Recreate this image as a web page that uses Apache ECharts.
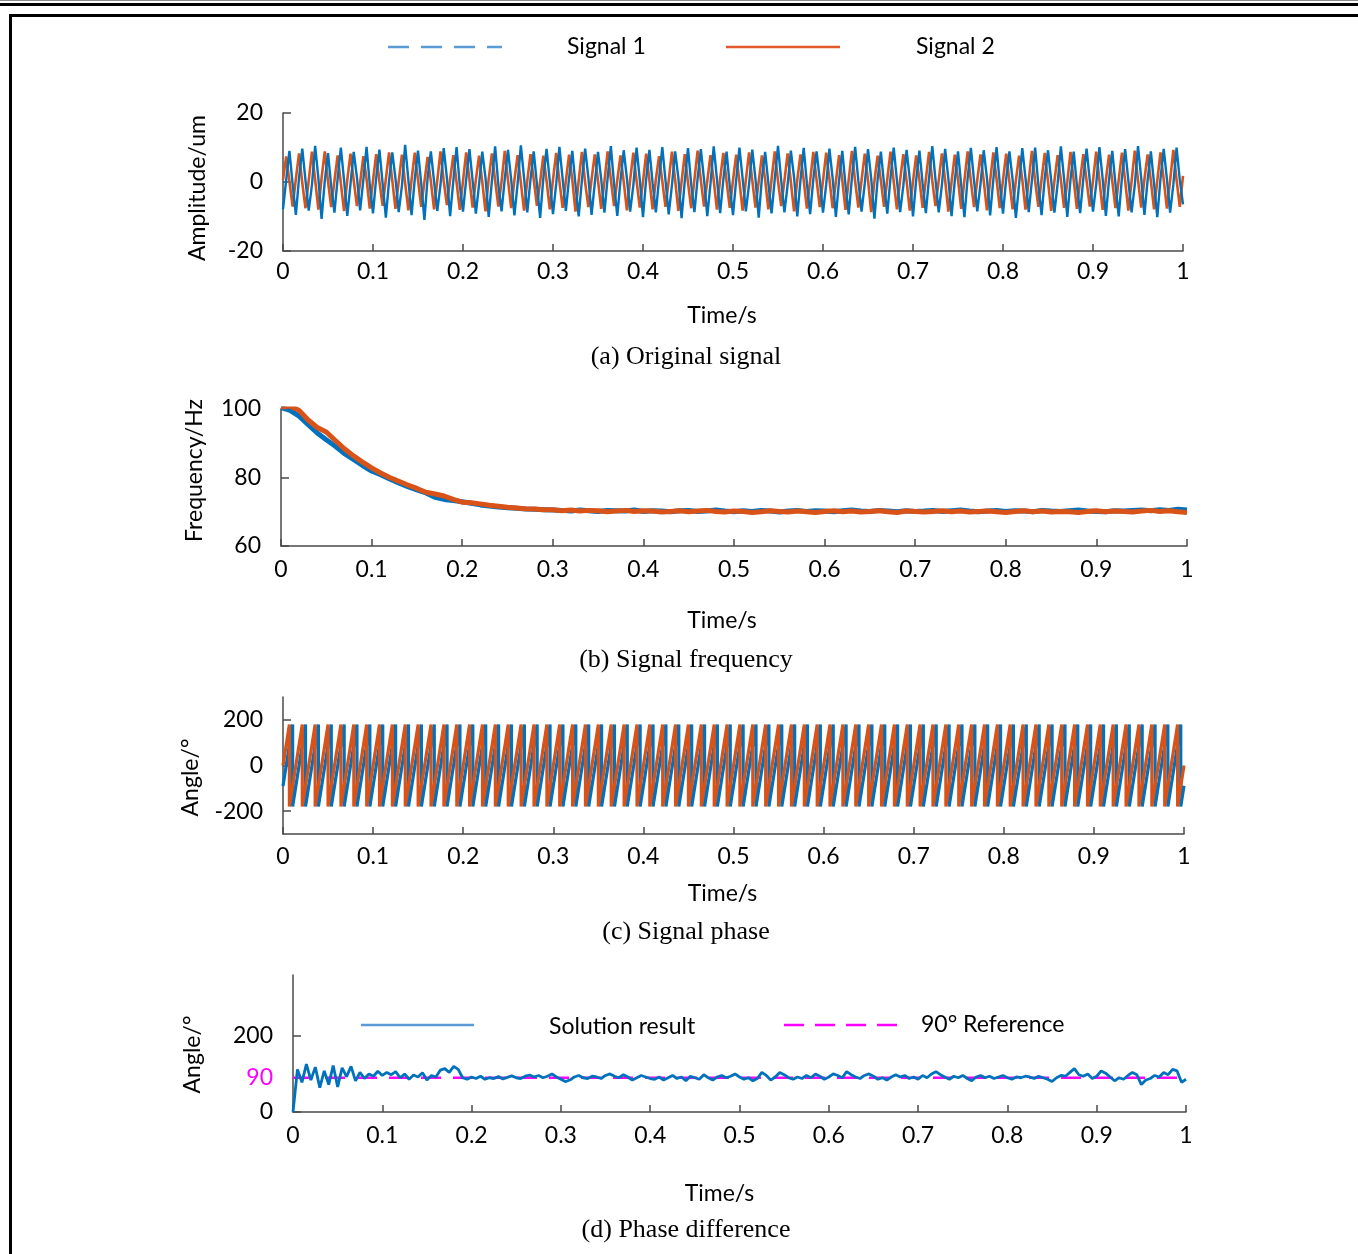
<!DOCTYPE html>
<html>
<head>
<meta charset="utf-8">
<script src="https://cdn.jsdelivr.net/npm/echarts@6/dist/echarts.min.js"></script>
<style>
  html, body { margin: 0; padding: 0; background: #fff; }
  #chart { width: 1358px; height: 1254px; }
</style>
</head>
<body>
<div id="chart"></div>
<script>
// (a) original signal, sampled every 1/280 s (a quarter period of the 70 Hz wave)
var dtA = 1 / 280;
var sig1 = [
  -7.9, 0.6, 9.0, -0.7, -9.5, 1.3, 9.7, 0.4, -8.3, -0.9, 10.5, 1.1, -10.7, 0.3, 8.4, -1.2, -8.9, 1.0, 10.0, 0.5, -9.8, -0.6, 8.7, 1.4, -8.2, 0.7, 10.2, -0.8,
  -9.1, 1.2, 9.4, -0.5, -10.3, 0.4, 8.6, 1.0, -8.7, -1.1, 10.8, 0.6, -9.6, 0.9, 9.1, -0.4, -11.0, 1.3, 8.9, 0.2, -8.4, -0.8, 9.8, 1.1, -9.9, 0.5, 10.1, -1.0,
  -8.6, 0.8, 9.5, 0.3, -9.2, -0.7, 8.8, 1.2, -10.1, 0.4, 10.3, -0.9, -8.5, 1.0, 9.3, 0.6, -9.7, -0.4, 10.6, 1.1, -8.8, 0.7, 8.9, -0.6, -10.4, 1.2, 9.6, 0.3,
  -9.3, -0.5, 10.2, 0.9, -8.4, 1.1, 9.0, -0.8, -10.0, 0.6, 9.7, 1.3, -9.5, -0.3, 8.7, 0.8, -8.9, 1.2, 10.4, -0.6, -9.8, 0.5, 9.2, 1.0, -8.6, -0.9, 10.0, 0.7,
  -10.2, 1.0, 9.3, -0.4, -8.8, 0.9, 10.1, 0.5, -9.4, -1.0, 8.9, 1.2, -10.5, 0.3, 9.8, -0.7, -8.7, 1.1, 9.5, 0.6, -9.9, -0.5, 10.3, 0.9, -9.0, 0.8, 8.8, -1.1,
  -9.6, 0.7, 10.0, 1.0, -8.5, -0.6, 9.4, 0.8, -10.3, 1.2, 8.7, -0.3, -9.1, 0.9, 10.5, 0.4, -8.8, -0.8, 9.1, 1.3, -10.0, 0.6, 9.9, -0.5, -9.3, 1.0, 8.9, 0.7,
  -8.9, -0.7, 9.7, 1.1, -10.1, 0.5, 9.0, -0.9, -9.4, 1.2, 10.2, 0.3, -8.6, -0.4, 9.5, 1.0, -10.6, 0.8, 8.8, -0.6, -9.2, 1.1, 10.0, 0.5, -8.7, -1.0, 9.3, 0.9,
  -10.0, 0.6, 9.1, -0.5, -9.0, 1.2, 10.4, 0.7, -8.8, -0.8, 9.6, 1.0, -9.9, 0.4, 8.9, -0.9, -10.2, 1.1, 9.9, 0.3, -8.5, -0.6, 9.2, 1.2, -9.7, 0.8, 10.1, -0.4,
  -9.2, 1.0, 8.9, 0.6, -10.4, -0.7, 9.8, 1.1, -8.7, 0.5, 10.0, -0.8, -9.6, 1.2, 9.2, 0.4, -8.9, -0.5, 10.3, 0.9, -10.1, 0.7, 8.8, -1.0, -9.0, 1.1, 9.7, 0.5,
  -8.6, -0.6, 10.1, 1.0, -9.8, 0.8, 9.0, -0.7, -10.0, 1.2, 9.5, 0.4, -8.8, -0.9, 10.4, 1.1, -9.5, 0.6, 8.9, -0.5, -10.2, 1.0, 9.6, 0.8, -8.9, -0.7, 10.0, 0.6,
  -6.5
];
var sig2 = [
  0.6, 7.4, 0.2, -7.1, 0.9, 8.3, -0.3, -7.6, 0.4, 8.8, 0.7, -8.0, 1.1, 8.9, 0.2, -7.3, 0.3, 7.7, -0.4, -8.4, 0.6, 8.2, 0.5, -7.0, -0.2, 7.5, 0.8, -7.7,
  0.4, 8.1, 0.1, -6.9, 0.9, 8.6, 0.4, -7.8, 0.2, 7.9, -0.3, -8.2, 0.7, 8.5, 0.6, -7.2, 0.1, 7.3, 0.2, -7.9, 0.5, 8.9, 0.3, -6.7, 0.8, 7.8, -0.1, -8.1,
  0.3, 8.6, 0.7, -7.4, 0.6, 7.6, 0.0, -8.5, 0.9, 8.3, 0.4, -7.1, 0.2, 9.0, 0.5, -7.6, 0.6, 7.8, -0.2, -8.3, 0.4, 8.1, 0.8, -6.9, 0.1, 7.6, 0.3, -7.9,
  0.7, 8.4, 0.2, -7.5, 0.3, 7.9, 0.6, -8.6, 0.5, 8.7, -0.1, -7.3, 0.8, 8.0, 0.4, -7.8, 0.2, 8.9, 0.7, -7.0, 0.5, 7.7, 0.1, -8.2, 0.6, 8.5, 0.3, -7.4,
  0.2, 8.2, 0.5, -7.9, 0.8, 7.5, 0.3, -7.2, 0.4, 8.8, 0.6, -8.4, 0.1, 8.1, -0.2, -7.6, 0.7, 9.1, 0.4, -7.1, 0.3, 7.8, 0.5, -8.0, 0.9, 8.4, 0.2, -7.5,
  0.5, 7.9, 0.1, -8.3, 0.6, 8.6, 0.4, -7.4, 0.2, 7.7, 0.7, -7.9, 0.8, 8.9, 0.3, -7.0, 0.4, 8.3, 0.0, -8.5, 0.6, 8.0, 0.5, -7.7, 0.3, 8.7, 0.6, -7.3,
  0.4, 8.5, 0.8, -7.6, 0.1, 7.8, 0.5, -8.1, 0.7, 9.0, 0.2, -7.4, 0.5, 8.2, 0.6, -8.7, 0.3, 7.6, 0.4, -7.2, 0.8, 8.8, 0.1, -7.9, 0.6, 8.1, 0.3, -8.3,
  0.2, 7.7, 0.6, -7.5, 0.9, 8.7, 0.3, -7.0, 0.4, 8.3, 0.5, -8.6, 0.1, 7.9, 0.7, -7.8, 0.5, 8.9, 0.2, -7.3, 0.6, 8.0, 0.4, -8.2, 0.3, 8.6, 0.8, -7.6,
  0.6, 8.2, 0.1, -7.9, 0.4, 7.6, 0.7, -8.0, 0.5, 9.0, 0.3, -7.2, 0.8, 8.4, 0.2, -8.4, 0.3, 7.8, 0.6, -7.5, 0.1, 8.7, 0.5, -7.8, 0.7, 8.1, 0.4, -7.1,
  0.3, 8.8, 0.5, -8.1, 0.7, 7.9, 0.2, -7.6, 0.6, 8.5, 0.4, -8.3, 0.2, 9.1, 0.6, -7.4, 0.8, 8.0, 0.3, -7.9, 0.4, 8.6, 0.7, -7.7, 0.5, 9.3, 0.6, -7.2,
  1.8
];

// (b) estimated frequency, every 0.01 s
var freqStep = 0.01;
var freq1 = [
  100.4, 99.6, 97.9, 95.4, 93.0, 91.0, 89.1, 87.0, 85.3, 83.5,
  81.9, 80.8, 79.6, 78.4, 77.3, 76.4, 75.5, 74.2, 73.6, 73.3,
  72.9, 72.5, 72.0, 71.7, 71.4, 71.2, 71.0, 70.8, 70.7, 70.6,
  70.5, 70.4, 70.2, 70.5, 70.3, 70.1, 70.4, 70.3, 70.2, 70.5,
  70.1, 70.3, 70.2, 70.0, 70.3, 70.4, 70.1, 70.2, 70.5, 70.2,
  70.0, 70.3, 70.1, 70.4, 70.2, 69.9, 70.2, 70.4, 70.1, 70.3,
  70.2, 70.0, 70.3, 70.5, 70.2, 70.1, 70.4, 70.2, 70.0, 70.3,
  70.1, 70.2, 70.4, 70.1, 70.3, 70.5, 70.2, 70.0, 70.2, 70.4,
  70.1, 70.3, 70.2, 70.0, 70.4, 70.2, 70.1, 70.3, 70.5, 70.2,
  70.1, 70.0, 70.3, 70.2, 70.4, 70.5, 70.3, 70.6, 70.4, 70.7,
  70.5
];
var freq2 = [
  100.6, 100.9, 99.6, 96.8, 94.6, 93.3, 90.8, 88.4, 86.3, 84.5,
  82.8, 81.3, 80.0, 78.9, 77.8, 76.8, 75.7, 75.2, 74.6, 73.6,
  72.8, 72.6, 72.3, 71.9, 71.6, 71.3, 71.1, 70.9, 70.8, 70.6,
  70.6, 70.3, 70.5, 70.2, 70.4, 70.3, 70.0, 70.2, 70.4, 70.1,
  70.3, 70.2, 69.9, 70.1, 70.3, 70.0, 70.2, 70.4, 70.1, 69.9,
  70.2, 70.1, 69.8, 70.0, 70.3, 70.1, 69.9, 70.2, 70.0, 69.8,
  70.1, 70.3, 70.0, 70.2, 69.9, 70.1, 70.3, 70.0, 69.8, 70.2,
  70.1, 69.9, 70.1, 70.3, 70.0, 70.2, 69.9, 70.1, 70.2, 70.0,
  69.8, 70.1, 70.3, 70.0, 70.2, 69.9, 70.1, 70.0, 69.8, 70.1,
  70.3, 70.0, 70.2, 70.1, 69.9, 70.2, 70.4, 70.1, 70.3, 70.0,
  69.8
];

// (c) phase: start / end angle and the times where each sawtooth wraps 180 -> -180
var phaseStart1 = -90, phaseEnd1 = -89;
var phaseStart2 = 0, phaseEnd2 = 0;
var wrap1 = [
  0.0107, 0.0250, 0.0393, 0.0536, 0.0679, 0.0821, 0.0964,
  0.1107, 0.1250, 0.1393, 0.1536, 0.1679, 0.1821, 0.1964,
  0.2107, 0.2250, 0.2393, 0.2536, 0.2679, 0.2821, 0.2964,
  0.3107, 0.3250, 0.3393, 0.3536, 0.3679, 0.3821, 0.3964,
  0.4107, 0.4250, 0.4393, 0.4536, 0.4679, 0.4821, 0.4964,
  0.5107, 0.5250, 0.5393, 0.5536, 0.5679, 0.5821, 0.5964,
  0.6107, 0.6250, 0.6393, 0.6536, 0.6679, 0.6821, 0.6964,
  0.7107, 0.7250, 0.7393, 0.7536, 0.7679, 0.7821, 0.7964,
  0.8107, 0.8250, 0.8393, 0.8536, 0.8679, 0.8821, 0.8964,
  0.9107, 0.9250, 0.9393, 0.9536, 0.9679, 0.9821, 0.9964
];
var wrap2 = [
  0.0071, 0.0214, 0.0357, 0.0500, 0.0643, 0.0786, 0.0929,
  0.1071, 0.1214, 0.1357, 0.1500, 0.1643, 0.1786, 0.1929,
  0.2071, 0.2214, 0.2357, 0.2500, 0.2643, 0.2786, 0.2929,
  0.3071, 0.3214, 0.3357, 0.3500, 0.3643, 0.3786, 0.3929,
  0.4071, 0.4214, 0.4357, 0.4500, 0.4643, 0.4786, 0.4929,
  0.5071, 0.5214, 0.5357, 0.5500, 0.5643, 0.5786, 0.5929,
  0.6071, 0.6214, 0.6357, 0.6500, 0.6643, 0.6786, 0.6929,
  0.7071, 0.7214, 0.7357, 0.7500, 0.7643, 0.7786, 0.7929,
  0.8071, 0.8214, 0.8357, 0.8500, 0.8643, 0.8786, 0.8929,
  0.9071, 0.9214, 0.9357, 0.9500, 0.9643, 0.9786, 0.9929
];

// (d) phase difference, every 0.005 s
var diffStep = 0.005;
var phaseDiff = [
  0, 112, 78, 126, 84, 118, 64, 108, 72, 122, 66, 116, 93, 120, 82, 104, 88, 100, 94, 107,
  96, 104, 98, 106, 90, 100, 86, 97, 92, 103, 84, 96, 92, 110, 114, 104, 120, 112, 90, 86,
  92, 88, 94, 86, 90, 88, 93, 87, 91, 95, 90, 88, 94, 97, 92, 96, 90, 94, 100, 92,
  86, 80, 84, 92, 96, 90, 88, 94, 92, 88, 96, 100, 94, 90, 98, 92, 84, 90, 96, 92,
  88, 86, 92, 84, 90, 96, 88, 92, 82, 94, 90, 86, 98, 90, 84, 92, 96, 90, 94, 100,
  92, 86, 90, 82, 88, 104, 96, 84, 92, 104, 98, 90, 86, 92, 88, 96, 90, 100, 94, 86,
  92, 100, 96, 90, 106, 98, 92, 88, 96, 100, 94, 86, 90, 84, 92, 98, 92, 96, 88, 92,
  86, 96, 90, 100, 106, 98, 92, 86, 94, 90, 96, 88, 82, 92, 96, 90, 94, 88, 92, 96,
  90, 86, 92, 90, 94, 92, 88, 94, 90, 86, 80, 90, 96, 94, 104, 114, 98, 94, 100, 88,
  94, 108, 102, 92, 82, 90, 86, 96, 104, 98, 72, 84, 88, 96, 92, 104, 98, 112, 108, 78,
  86
];
var refAngle = 90;

var xTickLabels = ['0', '0.1', '0.2', '0.3', '0.4', '0.5', '0.6', '0.7', '0.8', '0.9', '1'];

var blue = '#0072BD';
var orange = '#D95319';
var legendBlue = '#5B9BD5';
var legendOrange = '#E2582A';
var magenta = '#FF00FF';
var axisColor = '#4a4a4a';
var sans = 'Lato, "Open Sans", sans-serif';
var serif = '"Liberation Serif", "DejaVu Serif", serif';
var fs = 23;

function evenSeries(values, step) {
  return values.map(function (v, i) { return [+(i * step).toFixed(5), v]; });
}

function sawtooth(start, wraps, end) {
  var pts = [[0, start]];
  wraps.forEach(function (t) {
    pts.push([t, 180]);
    pts.push([t, -180]);
  });
  pts.push([1, end]);
  return pts;
}

function xAx(idx, nameGap, margin, shiftLeft) {
  return {
    type: 'value', gridIndex: idx, min: 0, max: 1, interval: 0.1,
    name: 'Time/s', nameLocation: 'middle', nameGap: nameGap,
    nameTextStyle: { fontFamily: sans, fontSize: fs, color: '#000', padding: [0, shiftLeft * 2, 0, 0] },
    axisLine: { show: true, onZero: false, lineStyle: { color: axisColor, width: 1.5 } },
    axisTick: { show: true, inside: true, length: 7, lineStyle: { color: axisColor, width: 1.5 } },
    axisLabel: {
      margin: margin, fontFamily: sans, fontSize: fs, color: '#000',
      formatter: function (v) { return xTickLabels[Math.round(v * 10)]; }
    },
    splitLine: { show: false }
  };
}

function yAx(idx, name, nameGap, namePad, min, max, ticks, extra) {
  var ax = {
    type: 'value', gridIndex: idx, min: min, max: max,
    name: name, nameLocation: 'middle', nameGap: nameGap, nameRotate: 90,
    nameTextStyle: { fontFamily: sans, fontSize: fs, color: '#000', padding: namePad },
    axisLine: { show: true, lineStyle: { color: axisColor, width: 1.5 } },
    axisTick: { show: true, inside: true, length: 8, customValues: ticks, lineStyle: { color: axisColor, width: 1.5 } },
    axisLabel: { margin: 20, fontFamily: sans, fontSize: fs, color: '#000', customValues: ticks },
    splitLine: { show: false }
  };
  if (extra) {
    ax.axisLabel.customValues = extra.labels;
    ax.axisLabel.color = extra.color;
  }
  return ax;
}

function hline(x1, x2, y, color, width, dash) {
  return {
    type: 'line', silent: true,
    shape: { x1: x1, y1: y, x2: x2, y2: y },
    style: { stroke: color, lineWidth: width, lineDash: dash || null }
  };
}

function label(text, x, y, font, align, color) {
  return {
    type: 'text', silent: true, x: x, y: y,
    style: { text: text, font: font, fill: color || '#000', textAlign: align || 'left', textVerticalAlign: 'middle', align: align || 'left', verticalAlign: 'middle' }
  };
}

var chart = echarts.init(document.getElementById('chart'));

var option = {
  animation: false,
  backgroundColor: '#fff',
  grid: [
    { left: 283, top: 113, width: 900, height: 138 },
    { left: 281, top: 409, width: 906, height: 137 },
    { left: 283, top: 697, width: 901, height: 137 },
    { left: 293, top: 975, width: 893, height: 137 }
  ],
  xAxis: [
    xAx(0, 53, 9, 11),
    xAx(1, 63, 12, 12),
    xAx(2, 48, 11, 11),
    xAx(3, 70, 12, 20)
  ],
  yAxis: [
    yAx(0, 'Amplitude/um', 74, [0, 12, 0, 0], -20, 20, [-20, 0, 20]),
    yAx(1, 'Frequency/Hz', 75, [0, 0, 0, 14], 60, 100, [60, 80, 100]),
    yAx(2, 'Angle/°', 81, [0, 24, 0, 0], -300, 300, [-200, 0, 200]),
    yAx(3, 'Angle/°', 89, [0, 22, 0, 0], 0, 360, [0, 200], {
      labels: [0, 90, 200],
      color: function (v) { return +v === 90 ? magenta : '#000'; }
    })
  ],
  series: [
    { name: 'Signal 2', type: 'line', xAxisIndex: 0, yAxisIndex: 0, data: evenSeries(sig2, dtA), showSymbol: false, lineStyle: { color: orange, width: 2.6 } },
    { name: 'Signal 1', type: 'line', xAxisIndex: 0, yAxisIndex: 0, data: evenSeries(sig1, dtA), showSymbol: false, lineStyle: { color: blue, width: 2.4 } },
    { name: 'Signal 1', type: 'line', xAxisIndex: 1, yAxisIndex: 1, data: evenSeries(freq1, freqStep), showSymbol: false, lineStyle: { color: blue, width: 5 } },
    { name: 'Signal 2', type: 'line', xAxisIndex: 1, yAxisIndex: 1, data: evenSeries(freq2, freqStep), showSymbol: false, lineStyle: { color: orange, width: 5 } },
    { name: 'Signal 1', type: 'line', xAxisIndex: 2, yAxisIndex: 2, data: sawtooth(phaseStart1, wrap1, phaseEnd1), showSymbol: false, lineStyle: { color: blue, width: 3.2 } },
    { name: 'Signal 2', type: 'line', xAxisIndex: 2, yAxisIndex: 2, data: sawtooth(phaseStart2, wrap2, phaseEnd2), showSymbol: false, lineStyle: { color: orange, width: 3.2 } },
    { name: '90° Reference', type: 'line', xAxisIndex: 3, yAxisIndex: 3, data: [[0, refAngle], [1, refAngle]], showSymbol: false, lineStyle: { color: magenta, width: 2.5, type: [20, 12] } },
    { name: 'Solution result', type: 'line', xAxisIndex: 3, yAxisIndex: 3, data: evenSeries(phaseDiff, diffStep), showSymbol: false, lineStyle: { color: blue, width: 2.8 } }
  ],
  graphic: [
    // page frame
    { type: 'rect', silent: true, shape: { x: 0, y: 0, width: 1358, height: 1 }, style: { fill: '#8a8a8a' } },
    { type: 'rect', silent: true, shape: { x: 0, y: 3, width: 1358, height: 3 }, style: { fill: '#000' } },
    { type: 'rect', silent: true, shape: { x: 9, y: 14, width: 1349, height: 3 }, style: { fill: '#000' } },
    { type: 'rect', silent: true, shape: { x: 9, y: 14, width: 3, height: 1240 }, style: { fill: '#000' } },
    // legend of (a)-(c)
    hline(388, 502, 47, legendBlue, 2.5, [21, 12]),
    label('Signal 1', 567, 47, fs + 'px ' + sans),
    hline(726, 840, 47, legendOrange, 2.5),
    label('Signal 2', 916, 47, fs + 'px ' + sans),
    // legend of (d)
    hline(361, 474, 1025, legendBlue, 2.5),
    label('Solution result', 549, 1027, fs + 'px ' + sans),
    hline(784, 897, 1025, magenta, 2.5, [20, 11]),
    label('90° Reference', 921, 1025, fs + 'px ' + sans),
    // captions
    label('(a) Original signal', 686, 357, '26px ' + serif, 'center'),
    label('(b) Signal frequency', 686, 660, '26px ' + serif, 'center'),
    label('(c) Signal phase', 686, 932, '26px ' + serif, 'center'),
    label('(d) Phase difference', 686, 1230, '26px ' + serif, 'center')
  ]
};

chart.setOption(option);
</script>
</body>
</html>
